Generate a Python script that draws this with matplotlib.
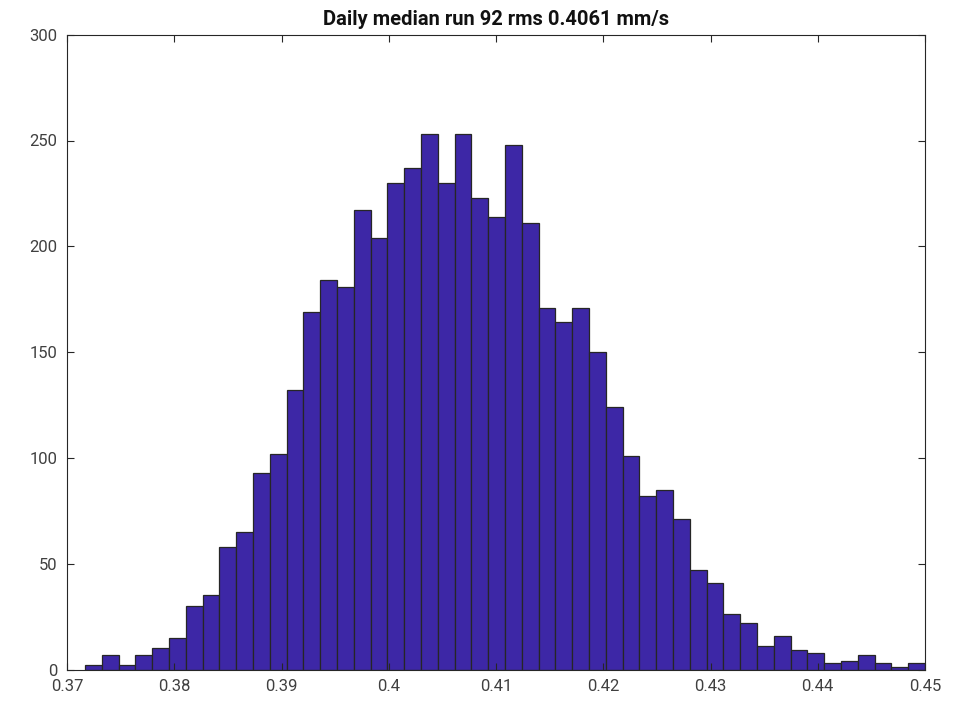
import numpy as np
import matplotlib
matplotlib.use("Agg")
import matplotlib.pyplot as plt

# histogram counts per bin
counts = [2, 7, 2, 7, 10, 15, 30, 35, 58, 65,
          93, 102, 132, 169, 184, 181, 217, 204, 230, 237,
          253, 230, 253, 223, 214, 248, 211, 171, 164, 171,
          150, 124, 101, 82, 85, 71, 47, 41, 26, 22,
          11, 16, 9, 8, 3, 4, 7, 3, 1, 3]
bin_lo = 0.37168
bin_hi = 0.45
xticks = [0.37, 0.38, 0.39, 0.40, 0.41, 0.42, 0.43, 0.44, 0.45]
xticklabels = ["0.37", "0.38", "0.39", "0.4", "0.41", "0.42", "0.43", "0.44", "0.45"]
yticks = [0, 50, 100, 150, 200, 250, 300]

plt.rcParams['font.family'] = ['Roboto', 'DejaVu Sans']

edges = np.linspace(bin_lo, bin_hi, len(counts) + 1)

fig = plt.figure(figsize=(9.73, 7.01), dpi=100)
ax = fig.add_axes([67 / 973, (701 - 669.5) / 701, (925 - 67) / 973, (669.5 - 34.7) / 701])

ax.hist(edges[:-1], bins=edges, weights=counts, color='#3D27A6',
        edgecolor='#262626', linewidth=0.9)

ax.set_xlim(0.37, 0.45)
ax.set_ylim(0, 300)
ax.set_xticks(xticks)
ax.set_xticklabels(xticklabels)
ax.set_yticks(yticks)

ax.tick_params(direction='in', length=5, width=0.8, top=True, right=True,
               labelsize=12, colors='#262626', labelcolor='#404040')
ax.tick_params(axis='x', pad=7)
ax.tick_params(axis='y', pad=7)
for s in ax.spines.values():
    s.set_color('#262626')
    s.set_linewidth(0.8)

ax.set_title('Daily median run 92 rms 0.4061 mm/s', fontsize=14.5,
             fontweight='bold', color='#111111', pad=7)

fig.savefig('out.png', dpi=100)
plt.close(fig)
